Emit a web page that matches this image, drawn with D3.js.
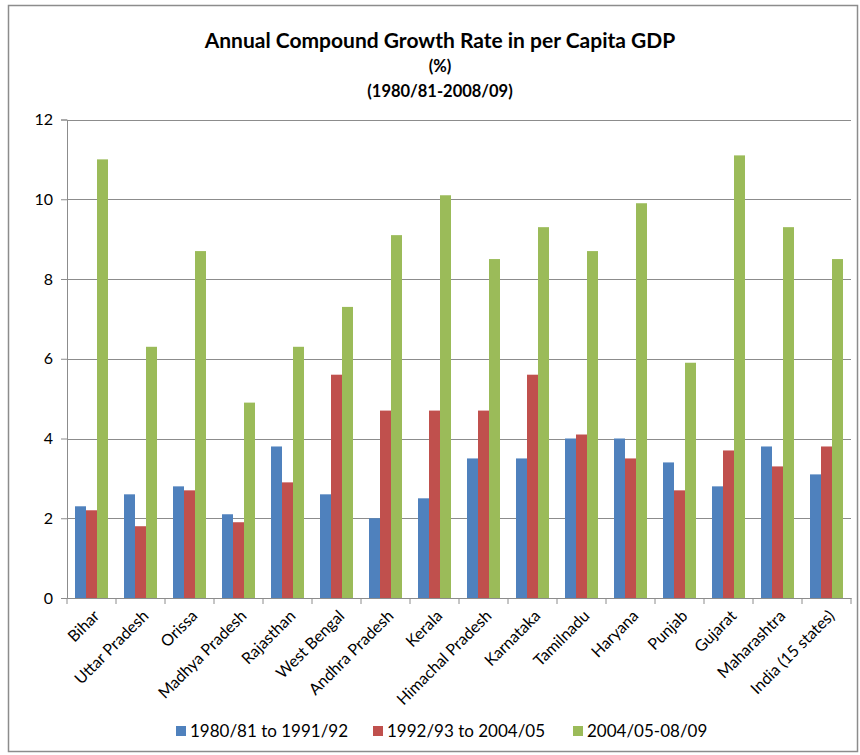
<!DOCTYPE html>
<html><head><meta charset="utf-8">
<script src="https://cdn.jsdelivr.net/npm/d3@7"></script>
<style>body{margin:0;background:#fff}svg{display:block}text{font-family:Lato,"Open Sans",sans-serif;fill:#000}</style>
</head><body>
<svg id="c" width="860" height="755"></svg>
<script>
const categories = ["Bihar","Uttar Pradesh","Orissa","Madhya Pradesh","Rajasthan","West Bengal","Andhra Pradesh","Kerala","Himachal Pradesh","Karnataka","Tamilnadu","Haryana","Punjab","Gujarat","Maharashtra","India (15 states)"];
const seriesNames = ["1980/81 to 1991/92","1992/93 to 2004/05","2004/05-08/09"];
const s1 = [2.3,2.6,2.8,2.1,3.8,2.6,2.0,2.5,3.5,3.5,4.0,4.0,3.4,2.8,3.8,3.1];
const s2 = [2.2,1.8,2.7,1.9,2.9,5.6,4.7,4.7,4.7,5.6,4.1,3.5,2.7,3.7,3.3,3.8];
const s3 = [11.0,6.3,8.7,4.9,6.3,7.3,9.1,10.1,8.5,9.3,8.7,9.9,5.9,11.1,9.3,8.5];
const yTicks = [0,2,4,6,8,10,12];
const colors = ["#4F81BD","#C0504D","#9BBB59"];
const series = [s1,s2,s3];

const svg = d3.select("#c");
const L=67, R=851, T=119.5, B=598;
svg.append("rect").attr("x",8.5).attr("y",5.5).attr("width",849).attr("height",746).attr("fill","#fff").attr("stroke","#8c8c8c").attr("stroke-width",1.5);

const x = d3.scaleBand().domain(categories).range([L,R]).paddingInner(0).paddingOuter(0);
const y = d3.scaleLinear().domain([0,12]).range([B,T]);
const barW = x.bandwidth()*11/49;

// gridlines
svg.append("g").selectAll("line").data(yTicks.filter(d=>d>0)).join("line")
  .attr("x1",L).attr("x2",R).attr("y1",d=>Math.round(y(d))+0.5).attr("y2",d=>Math.round(y(d))+0.5)
  .attr("stroke","#8c8c8c").attr("stroke-width",1);

// y axis
const ya = svg.append("g").attr("transform",`translate(${L},0)`)
  .call(d3.axisLeft(y).tickValues(yTicks).tickSize(6).tickPadding(8));
ya.select(".domain").attr("stroke","#8c8c8c");
ya.selectAll(".tick line").attr("stroke","#8c8c8c");
ya.selectAll(".tick text").attr("font-size",16).attr("font-family","Lato,sans-serif").attr("fill","#000");

// bars
series.forEach((s,si)=>{
  svg.append("g").selectAll("rect").data(s).join("rect")
    .attr("x",(d,i)=>x(categories[i])+x.bandwidth()/2-1.5*barW+si*barW)
    .attr("y",d=>y(d)).attr("width",barW).attr("height",d=>B-y(d))
    .attr("fill",colors[si]);
});

// x axis
const xa = svg.append("g").attr("transform",`translate(0,${B})`)
  .call(d3.axisBottom(x).tickSize(0).tickFormat(""));
xa.select(".domain").attr("stroke","#8c8c8c");
svg.append("g").selectAll("line").data(d3.range(categories.length+1)).join("line")
  .attr("x1",i=>L+i*x.step()).attr("x2",i=>L+i*x.step()).attr("y1",B).attr("y2",B+6)
  .attr("stroke","#8c8c8c");
svg.append("g").selectAll("text").data(categories).join("text")
  .attr("transform",d=>`translate(${x(d)+x.bandwidth()/2+5},${B+15}) rotate(-45)`)
  .attr("text-anchor","end").attr("dy","0.35em").attr("font-size",16).text(d=>d);

// title
svg.append("text").attr("x",440).attr("y",48).attr("text-anchor","middle").attr("font-size",21).attr("font-weight","bold").text("Annual Compound Growth Rate in per Capita GDP");
svg.append("text").attr("x",440).attr("y",72).attr("text-anchor","middle").attr("font-size",16.5).attr("font-weight","bold").text("(%)");
svg.append("text").attr("x",440).attr("y",97).attr("text-anchor","middle").attr("font-size",16.5).attr("font-weight","bold").text("(1980/81-2008/09)");

// legend
const legX=[176,373,573];
const lg = svg.append("g");
seriesNames.forEach((n,i)=>{
  lg.append("rect").attr("x",legX[i]).attr("y",726).attr("width",10).attr("height",10).attr("fill",colors[i]);
  lg.append("text").attr("x",legX[i]+14).attr("y",731).attr("dy","0.35em").attr("font-size",17).text(n);
});
</script>
</body></html>
